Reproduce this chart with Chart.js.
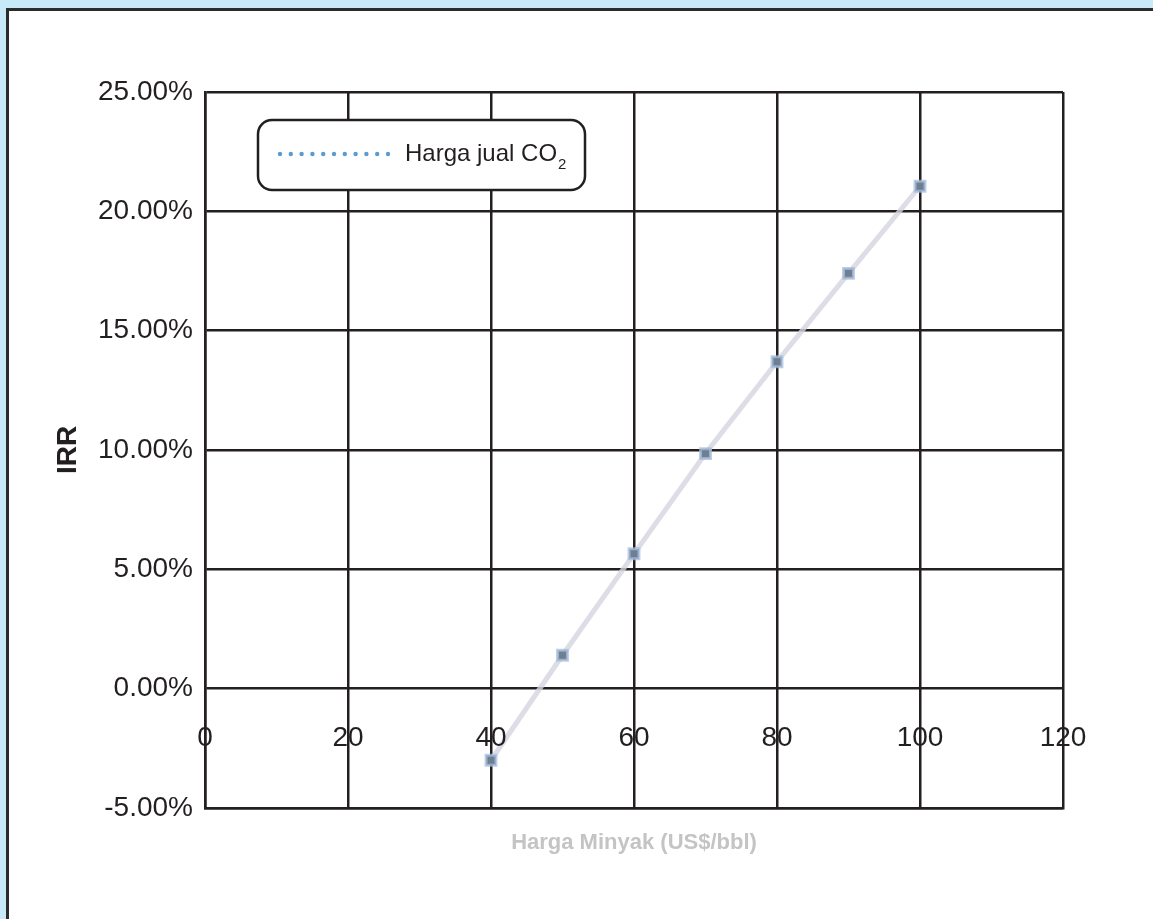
<!DOCTYPE html>
<html>
<head>
<meta charset="utf-8">
<script src="https://cdn.jsdelivr.net/npm/chart.js@4"></script>
<style>
    body { margin: 0; background: #c8e9f8; overflow: hidden; }
    .panel {
        position: absolute; left: 6px; top: 8px; width: 1170px; height: 940px;
        border: 3px solid #2b2b2b; background: #fff;
    }
    #irrChart { position: absolute; left: 0; top: 0; }
</style>
</head>
<body>
<div class="panel"></div>
<canvas id="irrChart" width="1153" height="919"></canvas>
<script>
// Harga minyak (x) vs IRR (%)
const oilPrices = [40, 50, 60, 70, 80, 90, 100];
const irrValues = [-3.0, 1.4, 5.65, 9.85, 13.7, 17.4, 21.05];
const seriesLabel = 'Harga jual CO2';
const xTitle = 'Harga Minyak (US$/bbl)';
const yTitle = 'IRR';

const FONT = "'Liberation Sans', Arial, sans-serif";
const INK = '#231f20';

// x tick labels sit under the 0% line, not at the bottom of the plot
const xLabelsAtZero = {
    id: 'xLabelsAtZero',
    afterDraw(chart) {
        const { ctx, scales: { x, y } } = chart;
        const yPix = y.getPixelForValue(0) + 50;
        ctx.save();
        ctx.font = `28px ${FONT}`;
        ctx.fillStyle = INK;
        ctx.textAlign = 'center';
        ctx.textBaseline = 'middle';
        x.ticks.forEach(t => {
            ctx.fillText(String(t.value), x.getPixelForValue(t.value), yPix);
        });
        ctx.restore();
    }
};

// rounded legend box with dotted sample line
const boxLegend = {
    id: 'boxLegend',
    afterDraw(chart) {
        const { ctx } = chart;
        const bx = 258, by = 120, bw = 327, bh = 70, r = 14;
        ctx.save();
        ctx.beginPath();
        ctx.roundRect(bx, by, bw, bh, r);
        ctx.fillStyle = '#fff';
        ctx.fill();
        ctx.lineWidth = 2.5;
        ctx.strokeStyle = INK;
        ctx.stroke();

        const ly = by + 34;
        ctx.fillStyle = '#5b9bd5';
        for (let i = 0; i < 11; i++) {
            ctx.beginPath();
            ctx.arc(280 + i * 10.8, ly, 2.2, 0, Math.PI * 2);
            ctx.fill();
        }

        const label = chart.data.datasets[0].label;
        const main = label.slice(0, -1);
        ctx.fillStyle = INK;
        ctx.font = `24px ${FONT}`;
        ctx.textBaseline = 'middle';
        ctx.fillText(main, 405, ly);
        const w = ctx.measureText(main).width;
        ctx.font = `15px ${FONT}`;
        ctx.fillText(label.slice(-1), 405 + w + 1, ly + 11);
        ctx.restore();
    }
};

const ctx = document.getElementById('irrChart').getContext('2d');
new Chart(ctx, {
    type: 'line',
    data: {
        datasets: [{
            label: seriesLabel,
            data: oilPrices.map((p, i) => ({ x: p, y: irrValues[i] })),
            borderColor: 'rgba(212,212,225,0.8)',
            borderWidth: 5,
            pointStyle: 'rect',
            pointRadius: 7,
            pointBackgroundColor: '#6f7f92',
            pointBorderColor: 'rgba(165,190,220,0.75)',
            pointBorderWidth: 3,
            fill: false,
            tension: 0
        }]
    },
    options: {
        responsive: false,
        animation: false,
        layout: { padding: { left: 0, top: 92, right: 90, bottom: 0 } },
        plugins: {
            legend: { display: false },
            tooltip: { enabled: false }
        },
        scales: {
            x: {
                type: 'linear',
                min: 0,
                max: 120,
                ticks: { stepSize: 20, display: false },
                grid: { color: INK, lineWidth: 2.5, drawTicks: false },
                border: { color: INK, width: 2.5 },
                title: {
                    display: true,
                    text: xTitle,
                    color: '#c4c4c4',
                    font: { family: FONT, size: 22, weight: 'bold' },
                    padding: { top: 0, bottom: 63 }
                },
                afterFit(scale) { scale.height = 111; }
            },
            y: {
                min: -5,
                max: 25,
                ticks: {
                    stepSize: 5,
                    padding: 12,
                    color: INK,
                    font: { family: FONT, size: 28 },
                    callback: v => v.toFixed(2) + '%'
                },
                grid: { color: INK, lineWidth: 2.5, drawTicks: false },
                border: { color: INK, width: 2.5 },
                title: {
                    display: true,
                    text: yTitle,
                    color: INK,
                    font: { family: FONT, size: 28, weight: 'bold' },
                    padding: { top: 51, bottom: 0 }
                },
                afterFit(scale) { scale.width = 205; }
            }
        }
    },
    plugins: [xLabelsAtZero, boxLegend]
});
</script>
</body>
</html>
